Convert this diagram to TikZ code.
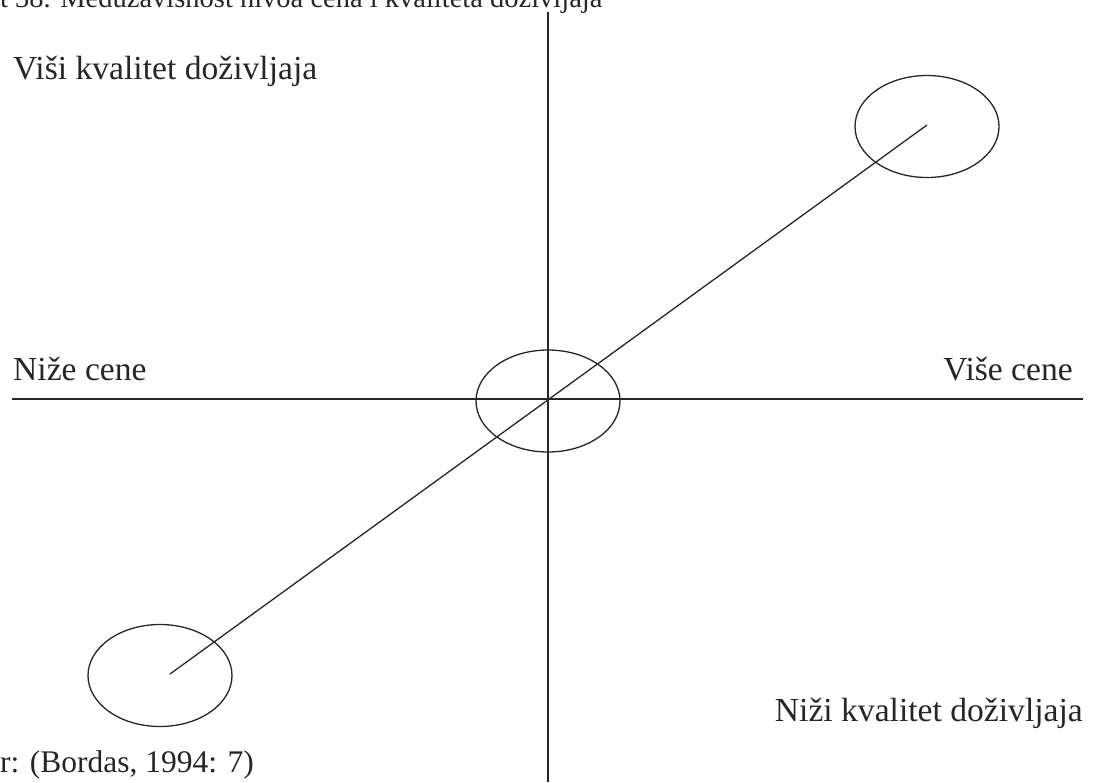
\documentclass[tikz,border=0pt]{standalone}
\usepackage{fontspec}
\setmainfont{Liberation Serif}
\usetikzlibrary{shapes.geometric}
\begin{document}
\begin{tikzpicture}[x=1pt,y=-1pt,
  axis/.style={line width=1.3pt,black!85},
  oval/.style={draw=black!85,line width=1.3pt,ellipse,inner sep=0pt,minimum width=144pt,minimum height=102pt},
  lbl/.style={inner sep=0pt,font=\fontsize{33.6}{40}\selectfont,text=black!85},
  ttl/.style={inner sep=0pt,font=\fontsize{28.5}{34}\selectfont,text=black!85},
  src/.style={inner sep=0pt,font=\fontsize{31.5}{38}\selectfont,text=black!85}]
\useasboundingbox (0,0) rectangle (1095,782);
\clip (0,0) rectangle (1095,782);
% axes
\coordinate (vtop) at (548,12);
\coordinate (vbot) at (548,782);
\coordinate (hl) at (12,399);
\coordinate (hr) at (1083,399);
\draw[axis] (vtop) -- (vbot);
\draw[axis] (hl) -- (hr);
% ellipses
\node[oval] (mid) at (548,401) {};
\node[oval] (tr) at (927,126.5) {};
\node[oval] (bl) at (160,675.5) {};
% diagonal
\coordinate (dA) at (170,674);
\coordinate (dB) at (927,125);
\draw[axis] (dA) -- (dB);
% labels
\node[ttl,anchor=base west] (title) at (0,7) {t 38. Međuzavisnost nivoa cena i kvaliteta doživljaja};
\node[lbl,anchor=base west] (hq) at (13,79) {Viši kvalitet doživljaja};
\node[lbl,anchor=base west] (lp) at (13,380) {Niže cene};
\node[lbl,anchor=base east] (hp) at (1073,380) {Više cene};
\node[lbl,anchor=base east] (lq) at (1083,721) {Niži kvalitet doživljaja};
\node[src,anchor=base west] (srcn) at (0,772) {r: (Bordas, 1994: 7)};
\end{tikzpicture}
\end{document}
